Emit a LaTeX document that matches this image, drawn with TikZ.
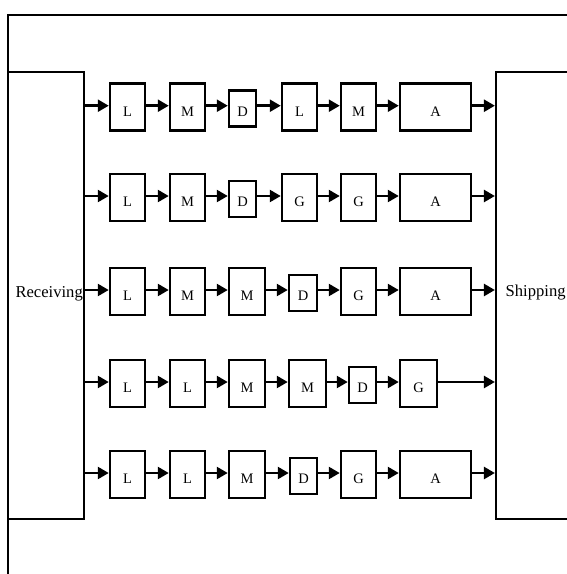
\documentclass[tikz,border=0pt]{standalone}
\usepackage{fontspec}
\setmainfont{Liberation Serif}
\usetikzlibrary{arrows.meta}
\tikzset{
  bx/.style={draw, line width=2.5pt, inner sep=0pt, minimum height=47pt,
    font=\fontsize{14.5}{14.5}\selectfont, text height=18pt, text depth=0pt},
  dbx/.style={bx, minimum height=36pt, text height=15pt},
  arr/.style={line width=2.5pt, -{Triangle[length=11pt,width=12pt]}},
  big/.style={draw, line width=2.2pt, inner sep=0pt, minimum height=447pt},
  side/.style={inner sep=0pt, font=\fontsize{16.6}{16.6}\selectfont}
}
\begin{document}
\begin{tikzpicture}[x=1pt,y=-1pt]
\useasboundingbox (0,0) rectangle (567,574);
\clip (0,0) rectangle (567,574);
% frame
\draw[line width=2.2pt] (8,15) rectangle (640,660);
% receiving / shipping
\node[big, minimum width=76pt] (recv) at (46,295.5) {};
\node[big, minimum width=150pt] (ship) at (571,295.5) {};
\node[side, anchor=base east] (rtxt) at (83,297) {Receiving};
\node[side, anchor=base west] (stxt) at (505.5,296) {Shipping};
% row coordinates
\coordinate (r1) at (0,105.7);
\coordinate (r2) at (0,196);
\coordinate (r3) at (0,290);
\coordinate (r4) at (0,382);
\coordinate (r5) at (0,473);
% row 1
\node[bx, minimum width=35pt] (r1a) at (127.5,107.2) {L};
\node[bx, minimum width=35pt] (r1b) at (187.5,107.2) {M};
\node[dbx, minimum width=27pt] (r1c) at (242.5,108.7) {D};
\node[bx, minimum width=35pt] (r1d) at (299.5,107.2) {L};
\node[bx, minimum width=35pt] (r1e) at (358.5,107.2) {M};
\node[bx, minimum width=71pt] (r1f) at (435.5,107.2) {A};
% row 2
\node[bx, minimum width=35pt] (r2a) at (127.5,197.5) {L};
\node[bx, minimum width=35pt] (r2b) at (187.5,197.5) {M};
\node[dbx, minimum width=27pt] (r2c) at (242.5,199) {D};
\node[bx, minimum width=35pt] (r2d) at (299.5,197.5) {G};
\node[bx, minimum width=35pt] (r2e) at (358.5,197.5) {G};
\node[bx, minimum width=71pt] (r2f) at (435.5,197.5) {A};
% row 3
\node[bx, minimum width=35pt] (r3a) at (127.5,291.5) {L};
\node[bx, minimum width=35pt] (r3b) at (187.5,291.5) {M};
\node[bx, minimum width=36pt] (r3c) at (247,291.5) {M};
\node[dbx, minimum width=28pt] (r3d) at (303,293) {D};
\node[bx, minimum width=35pt] (r3e) at (358.5,291.5) {G};
\node[bx, minimum width=71pt] (r3f) at (435.5,291.5) {A};
% row 4
\node[bx, minimum width=35pt] (r4a) at (127.5,383.5) {L};
\node[bx, minimum width=35pt] (r4b) at (187.5,383.5) {L};
\node[bx, minimum width=36pt] (r4c) at (247,383.5) {M};
\node[bx, minimum width=37pt] (r4d) at (307.5,383.5) {M};
\node[dbx, minimum width=27pt] (r4e) at (362.5,385) {D};
\node[bx, minimum width=37pt] (r4f) at (418.5,383.5) {G};
% row 5
\node[bx, minimum width=35pt] (r5a) at (127.5,474.5) {L};
\node[bx, minimum width=35pt] (r5b) at (187.5,474.5) {L};
\node[bx, minimum width=36pt] (r5c) at (247,474.5) {M};
\node[dbx, minimum width=27pt] (r5d) at (303.5,476) {D};
\node[bx, minimum width=35pt] (r5e) at (358.5,474.5) {G};
\node[bx, minimum width=71pt] (r5f) at (435.5,474.5) {A};
% connectors
\foreach \r in {1,...,5}{
  \draw[arr] (recv.east |- r\r) -- (r\r a.west |- r\r);
  \draw[arr] (r\r a.east |- r\r) -- (r\r b.west |- r\r);
  \draw[arr] (r\r b.east |- r\r) -- (r\r c.west |- r\r);
  \draw[arr] (r\r c.east |- r\r) -- (r\r d.west |- r\r);
  \draw[arr] (r\r d.east |- r\r) -- (r\r e.west |- r\r);
  \draw[arr] (r\r e.east |- r\r) -- (r\r f.west |- r\r);
  \draw[arr] (r\r f.east |- r\r) -- (ship.west |- r\r);
}
\end{tikzpicture}
\end{document}
